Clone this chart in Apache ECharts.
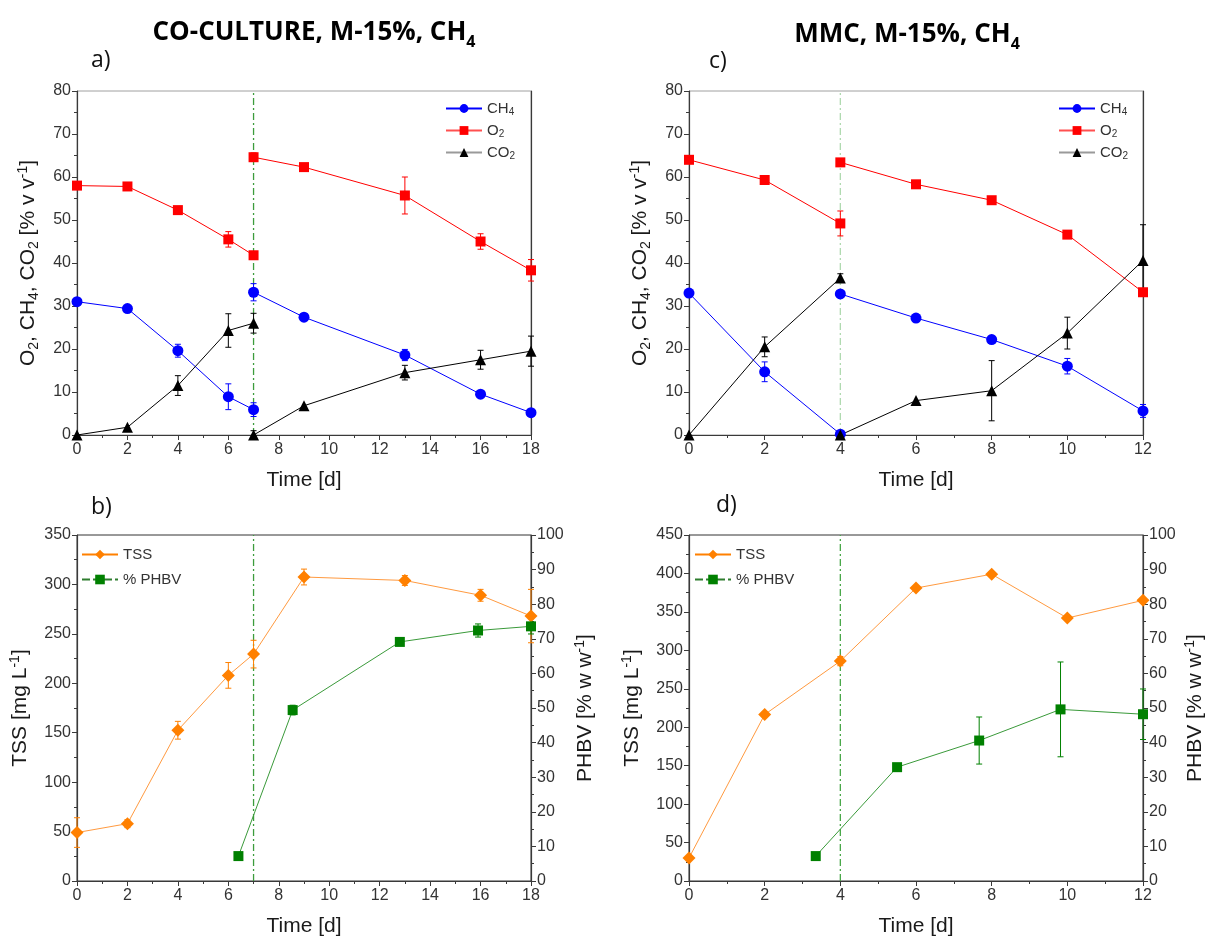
<!DOCTYPE html>
<html>
<head>
<meta charset="utf-8">
<script src="https://cdn.jsdelivr.net/npm/echarts@6/dist/echarts.min.js"></script>
<style>html,body{margin:0;padding:0;background:#fff;}#c{width:1207px;height:939px;}</style>
</head>
<body>
<div id="c"></div>
<script>
// ---------- Panel a: CO-CULTURE gas composition ----------
const timeA  = [0, 2, 4, 6, 7, 7, 9, 13, 16, 18];
const o2A    = [58.0, 57.8, 52.3, 45.5, 41.8, 64.6, 62.3, 55.7, 45.0, 38.3];
const o2ErrA = [0, 0, 0.8, 1.8, 0.5, 1.0, 0.6, 4.3, 1.8, 2.5];
const ch4A   = [31.0, 29.4, 19.6, 8.9, 5.9, 33.2, 27.4, 18.6, 9.5, 5.2];
const ch4ErrA= [0.5, 0.5, 1.5, 3.0, 1.6, 2.0, 0.5, 1.3, 0.5, 0.5];
const co2A   = [0, 1.8, 11.5, 24.3, 26.0, 0, 6.8, 14.5, 17.5, 19.5];
const co2ErrA= [0, 0, 2.3, 3.9, 2.3, 1.0, 0, 1.7, 2.2, 3.5];
const breakA = 5;          // index where the second feeding starts
const feedA  = 7;          // vertical line position

// ---------- Panel c: MMC gas composition ----------
const timeC  = [0, 2, 4, 4, 6, 8, 10, 12];
const o2C    = [64.0, 59.3, 49.2, 63.4, 58.3, 54.6, 46.6, 33.2];
const o2ErrC = [0, 0.5, 2.9, 0.5, 0.5, 0.5, 0.5, 0.5];
const ch4C   = [33.0, 14.7, 0.2, 32.8, 27.2, 22.2, 16.0, 5.6];
const ch4ErrC= [0, 2.3, 0, 0.5, 0.5, 0.8, 1.8, 1.5];
const co2C   = [0, 20.5, 36.5, 0, 8.0, 10.3, 23.7, 40.6];
const co2ErrC= [0, 2.3, 1.0, 0, 0, 7.0, 3.7, 8.3];
const breakC = 3;
const feedC  = 4;

// ---------- Panel b: CO-CULTURE TSS / PHBV ----------
const timeTssB  = [0, 2, 4, 6, 7, 9, 13, 16, 18];
const tssB      = [49, 58, 152.5, 208, 229.5, 307.5, 304, 289, 268];
const tssErrB   = [15, 4, 9, 13, 14, 8, 5, 6, 27];
const timePhbvB = [6.4, 8.55, 12.8, 15.9, 18];
const phbvB     = [7.2, 49.4, 69.1, 72.4, 73.6];
const phbvErrB  = [0, 1.4, 0.8, 1.9, 2.2];

// ---------- Panel d: MMC TSS / PHBV ----------
const timeTssD  = [0, 2, 4, 6, 8, 10, 12];
const tssD      = [30, 216.5, 286, 381, 399, 342, 365];
const tssErrD   = [3, 3, 6, 3, 3, 3, 3];
const timePhbvD = [3.35, 5.5, 7.67, 9.82, 12];
const phbvD     = [7.2, 32.9, 40.6, 49.6, 48.2];
const phbvErrD  = [0, 0.8, 6.8, 13.7, 7.3];

// ---------- axis ranges ----------
const xMaxA = 18, xMaxC = 12;
const yMaxGas = 80, yMaxTssB = 350, yMaxTssD = 450, yMaxPhbv = 100;

// ---------------------------------------------------------------
const FONT = '"Liberation Sans", Arial, sans-serif';
const C = {o2:'#ff0000', ch4:'#0000ff', co2:'#000000', tss:'#ff8000', tssLine:'#ff9a40', phbv:'#008000', phbvLine:'#3a9a3a'};

function runs(times, vals, brk) {
  const d = [];
  times.forEach((t, i) => { if (i === brk) d.push([t, '-']); d.push([t, vals[i]]); });
  return d;
}
function triples(times, vals, errs) {
  return times.map((t, i) => [t, vals[i], errs[i]]);
}
function pairs(times, vals) { return times.map((t, i) => [t, vals[i]]); }

function errRender(params, api) {
  const x = api.value(0), y = api.value(1), e = api.value(2);
  if (!e) return null;
  const top = api.coord([x, y + e]), bot = api.coord([x, y - e]);
  const col = api.visual('color');
  const w = 3;
  const st = {stroke: col, lineWidth: 1};
  return {type: 'group', children: [
    {type: 'line', shape: {x1: top[0], y1: top[1], x2: bot[0], y2: bot[1]}, style: st},
    {type: 'line', shape: {x1: top[0]-w, y1: top[1], x2: top[0]+w, y2: top[1]}, style: st},
    {type: 'line', shape: {x1: bot[0]-w, y1: bot[1], x2: bot[0]+w, y2: bot[1]}, style: st}
  ]};
}

const nameRich = {
  t: {fontSize: 21, color: '#1a1a1a', fontFamily: FONT, lineHeight: 25},
  s: {fontSize: 14, color: '#1a1a1a', fontFamily: FONT, verticalAlign: 'bottom', lineHeight: 11},
  p: {fontSize: 14, color: '#1a1a1a', fontFamily: FONT, verticalAlign: 'top', lineHeight: 11}
};
const gasName = '{t|O}{s|2}{t|, CH}{s|4}{t|, CO}{s|2}{t| [% v v}{p|-1}{t|]}';
const tssName = '{t|TSS [mg L}{p|-1}{t|]}';
const phbvName = '{t|PHBV [% w w}{p|-1}{t|]}';

const legendLabel = {
  'CH4': '{t|CH}{s|4}', 'O2': '{t|O}{s|2}', 'CO2': '{t|CO}{s|2}',
  'TSS': '{t|TSS}', '% PHBV': '{t|% PHBV}'
};
const legendRich = {
  t: {fontSize: 15, color: '#333', fontFamily: FONT, lineHeight: 17},
  s: {fontSize: 10, color: '#333', fontFamily: FONT, verticalAlign: 'bottom', lineHeight: 9}
};

const grids = [
  {left: 77,  top: 91,  width: 454, height: 344, show: true, borderColor: '#a0a0a0', borderWidth: 1},
  {left: 689, top: 91,  width: 454, height: 344, show: true, borderColor: '#a0a0a0', borderWidth: 1},
  {left: 77,  top: 535, width: 454, height: 346, show: true, borderColor: '#333', borderWidth: 1},
  {left: 689, top: 535, width: 454, height: 346, show: true, borderColor: '#333', borderWidth: 1}
];

function xAxis(gi, max) {
  return {
    type: 'value', gridIndex: gi, min: 0, max: max, interval: 2,
    axisLine: {show: true, onZero: false, lineStyle: {color: '#3a3a3a', width: 1.2}},
    axisTick: {show: true, length: 5, lineStyle: {color: '#3a3a3a'}},
    minorTick: {show: true, splitNumber: 2, length: 3, lineStyle: {color: '#3a3a3a'}},
    splitLine: {show: false},
    axisLabel: {fontSize: 16, color: '#333', fontFamily: FONT, margin: 7},
    name: '{t|Time [d]}', nameLocation: 'middle', nameGap: 33,
    nameTextStyle: {rich: nameRich}
  };
}
function yAxis(gi, max, interval, name, gap, pos) {
  return {
    type: 'value', gridIndex: gi, min: 0, max: max, interval: interval, position: pos || 'left',
    axisLine: {show: true, onZero: false, lineStyle: {color: '#3a3a3a', width: 1.2}},
    axisTick: {show: true, length: 5, lineStyle: {color: '#3a3a3a'}},
    minorTick: {show: true, splitNumber: 2, length: 3, lineStyle: {color: '#3a3a3a'}},
    splitLine: {show: false},
    axisLabel: {fontSize: 16, color: '#333', fontFamily: FONT, margin: 6},
    name: name, nameLocation: 'middle', nameGap: gap, nameRotate: 90,
    nameTextStyle: {rich: nameRich}
  };
}
function frameAxis(gi, max) {
  return {type: 'value', gridIndex: gi, min: 0, max: max, position: 'right',
    axisLine: {show: true, onZero: false, lineStyle: {color: '#3a3a3a', width: 1.2}},
    axisTick: {show: false}, axisLabel: {show: false}, splitLine: {show: false}};
}

const xAxes = [xAxis(0, xMaxA), xAxis(1, xMaxC), xAxis(2, xMaxA), xAxis(3, xMaxC)];
const yAxes = [
  yAxis(0, yMaxGas, 10, gasName, 36),          // 0
  yAxis(1, yMaxGas, 10, gasName, 36),          // 1
  yAxis(2, yMaxTssB, 50, tssName, 44),         // 2
  yAxis(2, yMaxPhbv, 10, phbvName, 42, 'right'), // 3
  yAxis(3, yMaxTssD, 50, tssName, 44),         // 4
  yAxis(3, yMaxPhbv, 10, phbvName, 40, 'right'), // 5
  frameAxis(0, yMaxGas),                       // 6
  frameAxis(1, yMaxGas)                        // 7
];

function lineSeries(name, data, xi, yi, color, lineColor, symbol, size) {
  return {type: 'line', name: name, data: data, xAxisIndex: xi, yAxisIndex: yi,
    symbol: symbol, symbolSize: size, showSymbol: true, connectNulls: false,
    itemStyle: {color: color}, lineStyle: {color: lineColor || color, width: 1},
    z: 4, animation: false};
}
function errSeries(data, xi, yi, color) {
  return {type: 'custom', data: data, xAxisIndex: xi, yAxisIndex: yi,
    renderItem: errRender, encode: {x: 0, y: 1}, itemStyle: {color: color},
    z: 3, silent: true, animation: false};
}
function vline(x, ymax, xi, yi, color) {
  return {type: 'line', data: [[x, 0], [x, ymax]], xAxisIndex: xi, yAxisIndex: yi,
    symbol: 'none', lineStyle: {color: color, width: 1.3, type: [7, 3, 2, 3]},
    z: 2, silent: true, animation: false};
}

const series = [
  vline(feedA, yMaxGas, 0, 0, '#3c9c3c'),
  errSeries(triples(timeA, o2A, o2ErrA), 0, 0, C.o2),
  errSeries(triples(timeA, ch4A, ch4ErrA), 0, 0, C.ch4),
  errSeries(triples(timeA, co2A, co2ErrA), 0, 0, C.co2),
  lineSeries('CH4', runs(timeA, ch4A, breakA), 0, 0, C.ch4, null, 'circle', 11),
  lineSeries('O2', runs(timeA, o2A, breakA), 0, 0, C.o2, null, 'rect', 10),
  lineSeries('CO2', runs(timeA, co2A, breakA), 0, 0, C.co2, null, 'triangle', 11),

  vline(feedC, yMaxGas, 1, 1, '#b0dab0'),
  errSeries(triples(timeC, o2C, o2ErrC), 1, 1, C.o2),
  errSeries(triples(timeC, ch4C, ch4ErrC), 1, 1, C.ch4),
  errSeries(triples(timeC, co2C, co2ErrC), 1, 1, C.co2),
  lineSeries('CH4', runs(timeC, ch4C, breakC), 1, 1, C.ch4, null, 'circle', 11),
  lineSeries('O2', runs(timeC, o2C, breakC), 1, 1, C.o2, null, 'rect', 10),
  lineSeries('CO2', runs(timeC, co2C, breakC), 1, 1, C.co2, null, 'triangle', 11),

  vline(feedA, yMaxTssB, 2, 2, '#3c9c3c'),
  errSeries(triples(timeTssB, tssB, tssErrB), 2, 2, C.tss),
  errSeries(triples(timePhbvB, phbvB, phbvErrB), 2, 3, C.phbv),
  lineSeries('TSS', pairs(timeTssB, tssB), 2, 2, C.tss, C.tssLine, 'diamond', 13),
  lineSeries('% PHBV', pairs(timePhbvB, phbvB), 2, 3, C.phbv, C.phbvLine, 'rect', 10),

  vline(feedC, yMaxTssD, 3, 4, '#4aa84a'),
  errSeries(triples(timeTssD, tssD, tssErrD), 3, 4, C.tss),
  errSeries(triples(timePhbvD, phbvD, phbvErrD), 3, 5, C.phbv),
  lineSeries('TSS', pairs(timeTssD, tssD), 3, 4, C.tss, C.tssLine, 'diamond', 13),
  lineSeries('% PHBV', pairs(timePhbvD, phbvD), 3, 5, C.phbv, C.phbvLine, 'rect', 10)
];

function gasLegend(left) {
  return {orient: 'vertical', left: left, top: 96, itemWidth: 36, itemHeight: 11, itemGap: 6,
    selectedMode: false,
    data: [{name: 'CH4'}, {name: 'O2', lineStyle: {color: '#ff5050'}}, {name: 'CO2', lineStyle: {color: '#9a9a9a'}}],
    formatter: n => legendLabel[n], textStyle: {rich: legendRich}};
}
function tssLegend(left) {
  return {orient: 'vertical', left: left, top: 542, itemWidth: 36, itemHeight: 12, itemGap: 10,
    selectedMode: false,
    data: [{name: 'TSS', lineStyle: {color: C.tss}}, {name: '% PHBV', lineStyle: {color: '#2e7d2e', type: [8, 3]}}],
    formatter: n => legendLabel[n], textStyle: {rich: legendRich}};
}

const titleRich = {
  T: {fontSize: 26, fontWeight: 'bold', fontFamily: '"Open Sans"', color: '#000', lineHeight: 34},
  S: {fontSize: 16, fontWeight: 'bold', fontFamily: '"Open Sans"', color: '#000', verticalAlign: 'bottom', lineHeight: 16}
};
const letterStyle = {fontSize: 23, fontFamily: '"Open Sans"', fill: '#111'};

const chart = echarts.init(document.getElementById('c'), null, {renderer: 'canvas'});
chart.setOption({
  backgroundColor: '#fff',
  animation: false,
  grid: grids,
  xAxis: xAxes,
  yAxis: yAxes,
  legend: [gasLegend(440), gasLegend(1053), tssLegend(76), tssLegend(689)],
  series: series,
  graphic: [
    {type: 'text', x: 314, y: 33, style: {text: '{T|CO-CULTURE, M-15%, CH}{S|4}', rich: titleRich, align: 'center', verticalAlign: 'middle'}},
    {type: 'text', x: 907, y: 35, style: {text: '{T|MMC, M-15%, CH}{S|4}', rich: titleRich, align: 'center', verticalAlign: 'middle'}},
    {type: 'text', x: 91, y: 60, style: Object.assign({text: 'a)', align: 'left', verticalAlign: 'middle'}, letterStyle)},
    {type: 'text', x: 709, y: 61, style: Object.assign({text: 'c)', align: 'left', verticalAlign: 'middle'}, letterStyle)},
    {type: 'text', x: 91, y: 507, style: Object.assign({text: 'b)', align: 'left', verticalAlign: 'middle'}, letterStyle)},
    {type: 'text', x: 716, y: 505, style: Object.assign({text: 'd)', align: 'left', verticalAlign: 'middle'}, letterStyle)}
  ]
});
</script>
</body>
</html>
